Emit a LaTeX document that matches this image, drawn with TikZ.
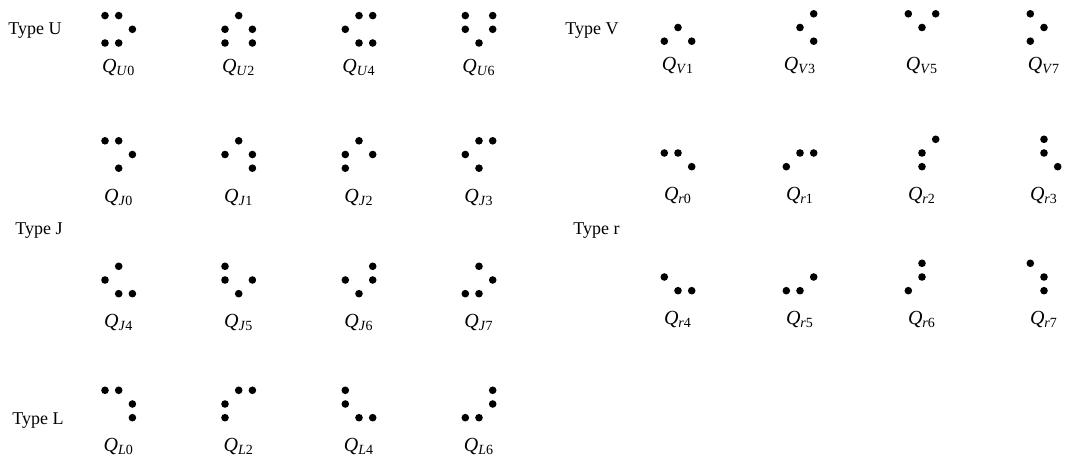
\documentclass[tikz,border=0pt]{standalone}
\usepackage{fontspec}
\setmainfont{Liberation Serif}
\usetikzlibrary{calc}
\tikzset{
  typelab/.style={anchor=west, inner sep=0pt, font=\fontsize{9}{10}\selectfont},
  qlab/.style={inner sep=0pt, font=\fontsize{10}{11}\selectfont},
  dotfill/.style={fill=black},
}
\newcommand{\ql}[2]{\textit{Q}\textsubscript{\textit{#1}#2}}
\newcommand{\dotset}[4]{%
  \coordinate (#1) at (#2,#3);
  \foreach \c/\r in {#4}
    \fill[dotfill] ($(#1)+({(\c-1)*13.7},{(\r-1)*13.7})$) circle (1.9pt);
}

\begin{document}
\begin{tikzpicture}[x=0.5pt, y=-0.5pt]
    \useasboundingbox (0,0) rectangle (1071,458);
    % type labels
    \node[typelab] (tU) at (8,31)    {Type U};
    \node[typelab] (tV) at (565,31)  {Type V};
    \node[typelab] (tJ) at (15,231)  {Type J};
    \node[typelab] (tr) at (573,231) {Type r};
    \node[typelab] (tL) at (12,421)  {Type L};
    % type U and V
    \dotset{U0}{118.7}{29.3}{0/0,1/0,2/1,0/2,1/2}
    \dotset{U2}{238.7}{29.3}{1/0,0/1,2/1,0/2,2/2}
    \dotset{U4}{359}{29.3}{1/0,2/0,0/1,1/2,2/2}
    \dotset{U6}{479}{29.3}{0/0,2/0,0/1,2/1,1/2}
    \dotset{V1}{678}{27.5}{1/1,0/2,2/2}
    \dotset{V3}{800}{27.5}{2/0,1/1,2/2}
    \dotset{V5}{922}{27.5}{0/0,2/0,1/1}
    \dotset{V7}{1044}{27.5}{0/0,1/1,0/2}
    % type J and r, upper row
    \dotset{J0}{118.7}{154.5}{0/0,1/0,2/1,1/2}
    \dotset{J1}{238.7}{154.5}{1/0,0/1,2/1,2/2}
    \dotset{J2}{359}{154.5}{1/0,0/1,2/1,0/2}
    \dotset{J3}{479}{154.5}{1/0,2/0,0/1,1/2}
    \dotset{r0}{678}{153}{0/1,1/1,2/2}
    \dotset{r1}{800}{153}{0/2,1/1,2/1}
    \dotset{r2}{922}{153}{2/0,1/1,1/2}
    \dotset{r3}{1044}{153}{1/0,1/1,2/2}
    % type J and r, lower row
    \dotset{J4}{118.7}{280}{1/0,0/1,1/2,2/2}
    \dotset{J5}{238.7}{280}{0/0,0/1,2/1,1/2}
    \dotset{J6}{359}{280}{2/0,0/1,2/1,1/2}
    \dotset{J7}{479}{280}{1/0,2/1,0/2,1/2}
    \dotset{r4}{678}{277}{0/1,1/2,2/2}
    \dotset{r5}{800}{277}{0/2,1/2,2/1}
    \dotset{r6}{922}{277}{1/0,1/1,0/2}
    \dotset{r7}{1044}{277}{0/0,1/1,1/2}
    % type L
    \dotset{L0}{118.7}{404}{0/0,1/0,2/1,2/2}
    \dotset{L2}{238.7}{404}{1/0,2/0,0/1,0/2}
    \dotset{L4}{359}{404}{0/0,0/1,1/2,2/2}
    \dotset{L6}{479}{404}{2/0,2/1,0/2,1/2}
    % names under the dots
    \foreach \n/\t/\k in {U0/U/0,U2/U/2,U4/U/4,U6/U/6,V1/V/1,V3/V/3,V5/V/5,V7/V/7}
      \node[qlab] (q\n) at ($(\n)+(0,38)$) {\ql{\t}{\k}};
    \foreach \n/\t/\k in {J0/J/0,J1/J/1,J2/J/2,J3/J/3,r0/r/0,r1/r/1,r2/r/2,r3/r/3,
                          J4/J/4,J5/J/5,J6/J/6,J7/J/7,r4/r/4,r5/r/5,r6/r/6,r7/r/7,
                          L0/L/0,L2/L/2,L4/L/4,L6/L/6}
      \node[qlab] (q\n) at ($(\n)+(0,43)$) {\ql{\t}{\k}};
  \end{tikzpicture}
\end{document}
